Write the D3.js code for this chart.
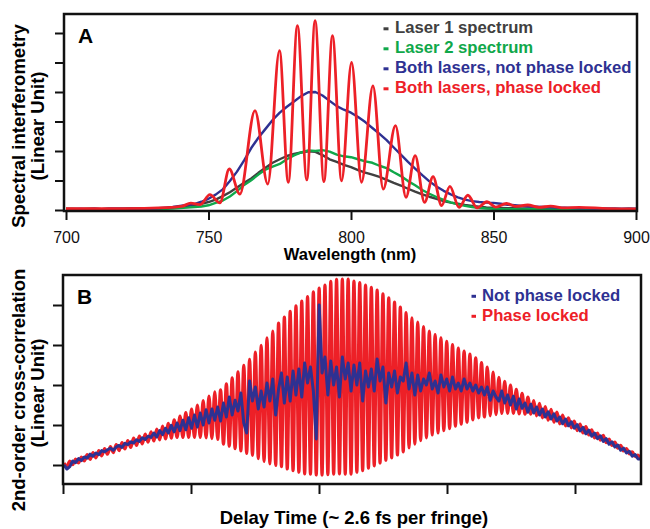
<!DOCTYPE html>
<html>
<head>
<meta charset="utf-8">
<script src="https://cdn.jsdelivr.net/npm/d3@7"></script>
<style>
body { margin: 0; background: #fff; }
svg { display: block; font-family: "Liberation Sans", Arial, Helvetica, sans-serif; }
</style>
</head>
<body>
<svg id="chart" width="650" height="529"></svg>
<script>
// ---- panel A : spectra (wavelength grid every 2.5 nm) ----
const wavelengths = d3.range(700, 902.5, 2.5);
const laser1 = [0.04,0.04,0.03,0.04,0.04,0.03,0.04,0.04,0.04,0.05,0.04,0.05,0.05,0.06,0.06,0.08,0.10,0.13,0.17,0.21,
    0.27,0.35,0.47,0.60,0.76,0.92,1.07,1.26,1.43,1.60,1.72,1.83,1.90,1.95,1.99,1.97,1.86,1.72,1.63,1.53,
    1.45,1.35,1.27,1.20,1.12,1.02,0.92,0.83,0.72,0.62,0.53,0.45,0.38,0.30,0.25,0.21,0.17,0.14,0.11,0.09,
    0.08,0.07,0.06,0.06,0.05,0.05,0.05,0.04,0.05,0.04,0.04,0.04,0.04,0.03,0.04,0.04,0.03,0.04,0.03,0.04,0.03];
const laser2 = [0.03,0.03,0.03,0.02,0.03,0.03,0.03,0.02,0.03,0.03,0.03,0.03,0.03,0.04,0.04,0.05,0.07,0.08,0.10,0.12,
    0.16,0.24,0.32,0.46,0.64,0.85,1.01,1.20,1.37,1.47,1.56,1.72,1.85,1.95,2.02,2.00,2.03,1.98,1.88,1.82,
    1.79,1.72,1.65,1.60,1.50,1.42,1.28,1.15,0.98,0.84,0.68,0.55,0.44,0.34,0.26,0.19,0.14,0.10,0.07,0.05,
    0.04,0.03,0.03,0.03,0.02,0.03,0.03,0.02,0.03,0.03,0.02,0.03,0.03,0.03,0.02,0.03,0.03,0.02,0.03,0.03,0.03];
const bothUnlocked = [0.03,0.03,0.04,0.03,0.04,0.03,0.04,0.04,0.04,0.04,0.05,0.05,0.05,0.06,0.08,0.10,0.14,0.17,0.20,0.28,
    0.38,0.52,0.70,0.98,1.30,1.68,2.10,2.45,2.75,3.05,3.30,3.50,3.68,3.86,3.99,4.00,3.88,3.70,3.52,3.40,
    3.30,3.15,2.98,2.78,2.58,2.37,2.12,1.88,1.63,1.40,1.18,0.97,0.80,0.65,0.53,0.43,0.35,0.30,0.27,0.25,
    0.24,0.21,0.18,0.16,0.14,0.12,0.11,0.10,0.09,0.08,0.08,0.07,0.06,0.06,0.05,0.05,0.05,0.04,0.04,0.04,0.04];
// phase locked: fringe peaks and troughs
const lockedWl = [700,720,735,740.5,743.8,747,750.5,754,757.3,761,766.3,770.8,774.9,778,781.2,784.5,787.4,790.5,793.5,796.7,
    800.2,803.7,807.7,811.3,815.6,819.3,822.5,825.8,828.8,831.8,834.7,837.9,841,844.3,847.7,850.8,854.5,858,862,866,
    870,875,880,890,900];
const lockedSpec = [0.05,0.05,0.08,0.12,0.23,0.18,0.52,0.24,1.39,0.54,3.37,0.88,5.40,0.94,6.25,1.02,6.42,0.96,5.91,0.99,
    5.00,0.94,4.21,0.71,2.86,0.43,1.84,0.26,1.13,0.15,0.80,0.09,0.50,0.07,0.28,0.10,0.22,0.12,0.17,0.09,
    0.13,0.07,0.09,0.05,0.04];
const wlTicks = [700, 750, 800, 850, 900];
const specTicks = [0, 1, 2, 3, 4, 5, 6];

// ---- panel B : cross-correlation (delay in tick units, half-fringe grid) ----
const delayStart = 0.008;
const fringeStep = 0.0453;
const lockedPeaks = [0.05,0.10,0.15,0.20,0.26,0.31,0.36,0.41,0.46,0.51, 0.56,0.61,0.67,0.72,0.77,0.83,0.90,0.97,1.04,1.13,
    1.22,1.31,1.40,1.50,1.61,1.72,1.83,1.88,2.03,2.18, 2.33,2.49,2.64,2.82,2.99,3.18,3.35,3.55,3.70,3.84,
    3.98,4.10,4.21,4.33,4.42,4.50,4.59,4.64,4.65,4.65, 4.60,4.56,4.50,4.44,4.37,4.28,4.18,4.07,3.95,3.81,
    3.68,3.57,3.46,3.35,3.26,3.18,3.09,3.01,2.92,2.85, 2.77,2.68,2.56,2.45,2.32,2.19,2.09,2.00,1.89,1.79,
    1.70,1.61,1.54,1.46,1.39,1.32,1.25,1.18,1.10,1.02, 0.96,0.88,0.80,0.74,0.65,0.57,0.49,0.41,0.33,0.25];
const lockedTroughs = [-0.03,0.01,0.05,0.10,0.14,0.18,0.23,0.27,0.31,0.36, 0.40,0.44,0.49,0.53,0.57,0.60,0.63,0.65,0.67,0.69,
    0.69,0.69,0.69,0.69,0.68,0.66,0.64,0.52,0.47,0.41, 0.35,0.29,0.24,0.16,0.09,0.03,-0.01,-0.04,-0.10,-0.14,
    -0.18,-0.22,-0.23,-0.25,-0.25,-0.24,-0.23,-0.22,-0.23,-0.23, -0.18,-0.14,-0.08,-0.02,0.05,0.12,0.18,0.25,0.33,0.43,
    0.52,0.61,0.68,0.75,0.80,0.86,0.91,0.97,1.02,1.07, 1.13,1.18,1.20,1.23,1.26,1.29,1.29,1.29,1.28,1.27,
    1.27,1.23,1.18,1.12,1.07,1.03,0.98,0.93,0.86,0.80, 0.75,0.68,0.62,0.56,0.49,0.42,0.35,0.28,0.21,0.14];
const notLocked = [0.00,-0.10,-0.04,0.10,0.06,0.16,0.11,0.20,0.17,0.27, 0.22,0.30,0.26,0.36,0.33,0.38,0.42,0.37,0.45,0.49,
    0.44,0.54,0.51,0.58,0.55,0.63,0.59,0.68,0.64,0.72, 0.69,0.80,0.70,0.86,0.76,0.92,0.80,0.99,0.83,1.05,
    0.86,1.12,0.88,1.18,0.92,1.25,0.95,1.30,1.00,1.38, 1.05,1.40,1.12,1.45,1.10,1.55,1.20,1.70,1.25,1.62,
    1.35,1.80,1.05,0.80,2.10,1.60,1.95,1.40,1.85,1.45, 2.05,1.60,2.15,1.25,1.90,2.30,1.55,2.20,1.60,2.35,
    1.75,2.40,1.70,2.55,2.05,2.45,1.85,0.65,4.00,2.30, 2.70,1.75,2.60,2.00,2.45,1.70,2.70,2.15,2.55,1.85,
    2.50,2.00,2.55,1.60,2.35,1.95,2.40,1.85,2.65,2.10, 2.45,1.55,2.30,1.95,2.35,1.80,2.20,2.10,2.55,1.90,
    2.30,1.75,2.25,1.85,2.15,2.00,2.30,1.90,2.10,1.80, 2.25,1.95,2.15,1.85,2.20,1.90,2.05,1.85,2.15,1.90,
    2.05,1.85,2.00,1.80,1.95,1.75,1.95,1.62,1.85,1.70, 1.60,1.85,1.55,1.75,1.50,1.72,1.40,1.65,1.42,1.55,
    1.32,1.52,1.30,1.45,1.25,1.40,1.20,1.33,1.15,1.28, 1.10,1.20,1.03,1.15,0.98,1.08,0.92,1.01,0.85,0.94,
    0.78,0.87,0.72,0.80,0.66,0.73,0.59,0.66,0.52,0.58, 0.45,0.50,0.37,0.42,0.30,0.34,0.22,0.26,0.15,0.15];
const delayTicks = [0, 1, 2, 3, 4];
const corrTicks = [0, 1, 2, 3, 4];

const colors = { gray: "#404040", green: "#10a84a", blue: "#2e3192", red: "#ed2027" };

const svg = d3.select("#chart");

// ---------------- panel A ----------------
const A = { left: 64, right: 637, top: 14, bottom: 211 };
const xA = d3.scaleLinear().domain([700, 900]).range([66, 636]);
const yA = d3.scaleLinear().domain([0, 6]).range([210, 33]);

svg.append("clipPath").attr("id", "clipA").append("rect")
    .attr("x", A.left).attr("y", A.top).attr("width", A.right - A.left).attr("height", A.bottom - A.top);

const gA = svg.append("g").attr("clip-path", "url(#clipA)");
const lineA = d3.line().x(d => xA(d[0])).y(d => yA(d[1]));

const specSeries = [
    { vals: laser1, color: colors.gray },
    { vals: laser2, color: colors.green },
    { vals: bothUnlocked, color: colors.blue }
];
specSeries.forEach(s => {
    gA.append("path")
        .datum(wavelengths.map((w, i) => [w, s.vals[i]]))
        .attr("fill", "none")
        .attr("stroke", s.color)
        .attr("stroke-width", 2.4)
        .attr("stroke-linejoin", "round")
        .attr("d", lineA);
});
gA.append("path")
    .datum(lockedWl.map((w, i) => [w, lockedSpec[i]]))
    .attr("fill", "none")
    .attr("stroke", colors.red)
    .attr("stroke-width", 2.8)
    .attr("d", lineA.curve(d3.curveMonotoneX));

svg.append("g")
    .attr("transform", `translate(${A.left},0)`)
    .call(d3.axisLeft(yA).tickValues(specTicks).tickSize(9).tickFormat(""));
svg.append("g")
    .attr("transform", `translate(0,${A.bottom})`)
    .call(d3.axisBottom(xA).tickValues(wlTicks).tickSize(9).tickPadding(12).tickFormat(d3.format("d")));

svg.append("rect")
    .attr("x", A.left).attr("y", A.top)
    .attr("width", A.right - A.left).attr("height", A.bottom - A.top)
    .attr("fill", "none").attr("stroke", "#111").attr("stroke-width", 2.5);

svg.append("text").attr("x", 78).attr("y", 43)
    .style("font-size", "21px").style("font-weight", "bold").text("A");

svg.append("text").attr("x", 350).attr("y", 260).attr("text-anchor", "middle")
    .style("font-size", "16.5px").style("font-weight", "bold").text("Wavelength (nm)");

svg.append("text").attr("transform", "translate(24.5,126) rotate(-90)").attr("text-anchor", "middle")
    .style("font-size", "18.5px").style("font-weight", "bold").text("Spectral interferometry");
svg.append("text").attr("transform", "translate(44,126) rotate(-90)").attr("text-anchor", "middle")
    .style("font-size", "18.5px").style("font-weight", "bold").text("(Linear Unit)");

const legendA = [
    { label: "Laser 1 spectrum", color: colors.gray },
    { label: "Laser 2 spectrum", color: colors.green },
    { label: "Both lasers, not phase locked", color: colors.blue },
    { label: "Both lasers, phase locked", color: colors.red }
];
const legA = svg.append("g");
legendA.forEach((d, i) => {
    const yy = 33.3 + i * 20;
    legA.append("line").attr("x1", 383.5).attr("x2", 388.5).attr("y1", yy - 4.5).attr("y2", yy - 4.5)
        .attr("stroke", d.color).attr("stroke-width", 3);
    legA.append("text").attr("x", 395).attr("y", yy).attr("fill", d.color)
        .style("font-size", "16.7px").style("font-weight", "bold").text(d.label);
});

// ---------------- panel B ----------------
const B = { left: 63, right: 641, top: 275, bottom: 484 };
const xB = d3.scaleLinear().domain([0, 4]).range([63, 575]);
const yB = d3.scaleLinear().domain([0, 4]).range([465, 305]);

svg.append("clipPath").attr("id", "clipB").append("rect")
    .attr("x", B.left).attr("y", B.top).attr("width", B.right - B.left).attr("height", B.bottom - B.top);
const gB = svg.append("g").attr("clip-path", "url(#clipB)");

// alternate peak / trough of each fringe on the half-fringe grid
const lockedB = [];
lockedPeaks.forEach((p, i) => {
    lockedB.push([delayStart + fringeStep * i, p]);
    lockedB.push([delayStart + fringeStep * (i + 0.5), lockedTroughs[i]]);
});
const notLockedB = notLocked.map((v, k) => [delayStart + fringeStep * k / 2, v]);

const lineB = d3.line().x(d => xB(d[0])).y(d => yB(d[1]));
gB.append("path").datum(lockedB)
    .attr("fill", "none").attr("stroke", colors.red).attr("stroke-width", 3.2)
    .attr("d", lineB.curve(d3.curveMonotoneX));
gB.append("path").datum(notLockedB)
    .attr("fill", "none").attr("stroke", colors.blue).attr("stroke-width", 3)
    .attr("stroke-linejoin", "round")
    .attr("d", lineB.curve(d3.curveLinear));

svg.append("g")
    .attr("transform", `translate(${B.left},0)`)
    .call(d3.axisLeft(yB).tickValues(corrTicks).tickSize(10).tickFormat(""));
svg.append("g")
    .attr("transform", `translate(0,${B.bottom})`)
    .call(d3.axisBottom(xB).tickValues(delayTicks).tickSize(10).tickFormat(""));

svg.append("rect")
    .attr("x", B.left).attr("y", B.top)
    .attr("width", B.right - B.left).attr("height", B.bottom - B.top)
    .attr("fill", "none").attr("stroke", "#111").attr("stroke-width", 2.5);

svg.append("text").attr("x", 77).attr("y", 304)
    .style("font-size", "21px").style("font-weight", "bold").text("B");

svg.append("text").attr("x", 354).attr("y", 524).attr("text-anchor", "middle")
    .style("font-size", "18.5px").style("font-weight", "bold").text("Delay Time (~ 2.6 fs per fringe)");

svg.append("text").attr("transform", "translate(24.5,390) rotate(-90)").attr("text-anchor", "middle")
    .style("font-size", "18.5px").style("font-weight", "bold").text("2nd-order cross-correlation");
svg.append("text").attr("transform", "translate(44,393) rotate(-90)").attr("text-anchor", "middle")
    .style("font-size", "18.5px").style("font-weight", "bold").text("(Linear Unit)");

const legendB = [
    { label: "Not phase locked", color: colors.blue },
    { label: "Phase locked", color: colors.red }
];
legendB.forEach((d, i) => {
    const yy = 301.3 + i * 20;
    svg.append("line").attr("x1", 471.5).attr("x2", 476).attr("y1", yy - 5).attr("y2", yy - 5)
        .attr("stroke", d.color).attr("stroke-width", 3);
    svg.append("text").attr("x", 482).attr("y", yy).attr("fill", d.color)
        .style("font-size", "16.7px").style("font-weight", "bold").text(d.label);
});

// axis styling: no domain line (frame draws it), heavier ticks
svg.selectAll(".domain").remove();
svg.selectAll(".tick line").attr("stroke", "#111").attr("stroke-width", 2);
svg.selectAll(".tick text").attr("fill", "#111").style("font-size", "16px").style("font-family", "\"Liberation Sans\", Arial, sans-serif");
</script>
</body>
</html>
